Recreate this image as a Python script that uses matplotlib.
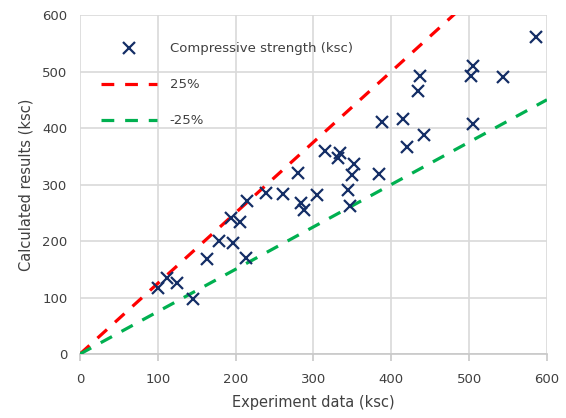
import numpy as np
import matplotlib
matplotlib.use("Agg")
import matplotlib.pyplot as plt

# experiment vs calculated compressive strength (ksc)
experiment = [100.6, 112.2, 125.0, 144.8, 162.8, 179.0, 193.6, 197.0, 205.6, 213.3,
              214.2, 239.0, 260.4, 280.5, 283.6, 287.8, 304.1, 314.8, 331.9, 334.0,
              344.8, 346.9, 349.0, 352.0, 384.2, 387.6, 415.4, 420.6, 433.9, 436.9,
              442.0, 502.4, 504.6, 505.4, 543.1, 585.5]
calculated = [116.3, 134.0, 125.1, 96.8, 167.6, 200.5, 240.2, 195.9, 233.1, 170.4,
              271.3, 285.5, 283.2, 319.8, 266.7, 254.9, 281.4, 359.3, 346.4, 355.2,
              290.3, 262.0, 316.8, 336.3, 318.0, 411.2, 415.4, 365.8, 466.0, 492.0,
              387.6, 492.0, 407.0, 509.7, 490.8, 560.5]

ref_x = [0, 600]
plus25 = [0, 750]
minus25 = [0, 450]

plt.rcParams['font.family'] = ['DejaVu Sans']
txt = '#404040'

fig = plt.figure(figsize=(5.66, 4.18), dpi=100)
ax = fig.add_axes([0.1413, 0.1531, 0.825, 0.811])

ax.plot(experiment, calculated, linestyle='none', marker='x', markersize=9,
        markeredgewidth=1.6, color='#142E66', label='Compressive strength (ksc)', zorder=4)
ax.plot(ref_x, plus25, color='#FF0000', linewidth=2.3, linestyle=(0, (4, 3.4)),
        label='25%', zorder=3)
ax.plot(ref_x, minus25, color='#00B050', linewidth=2.3, linestyle=(0, (4, 3.4)),
        label='-25%', zorder=3)

ax.set_xlim(0, 600)
ax.set_ylim(0, 600)
ax.set_xticks(range(0, 601, 100))
ax.set_yticks(range(0, 601, 100))
ax.grid(True, color='#D9D9D9', linewidth=1.2)
ax.set_axisbelow(True)
for s in ['top', 'right', 'left']:
    ax.spines[s].set_visible(False)
ax.spines['bottom'].set_color('#C8C8C8')
ax.spines['bottom'].set_linewidth(1.2)
ax.tick_params(axis='x', colors='#C8C8C8', labelcolor=txt, length=5, width=1.2,
               labelsize=9.5, pad=9)
ax.tick_params(axis='y', length=0, labelcolor=txt, labelsize=9.5, pad=9)

ax.set_xlabel('Experiment data (ksc)', fontsize=10.5, color=txt, labelpad=6)
ax.set_ylabel('Calculated results (ksc)', fontsize=10.5, color=txt, labelpad=6)

leg = ax.legend(loc='upper left', bbox_to_anchor=(0.02, 0.955), frameon=False,
                fontsize=9.5, labelspacing=1.75, handlelength=4.2, handletextpad=1.0,
                labelcolor=txt)

fig.savefig('out.png', dpi=100)
